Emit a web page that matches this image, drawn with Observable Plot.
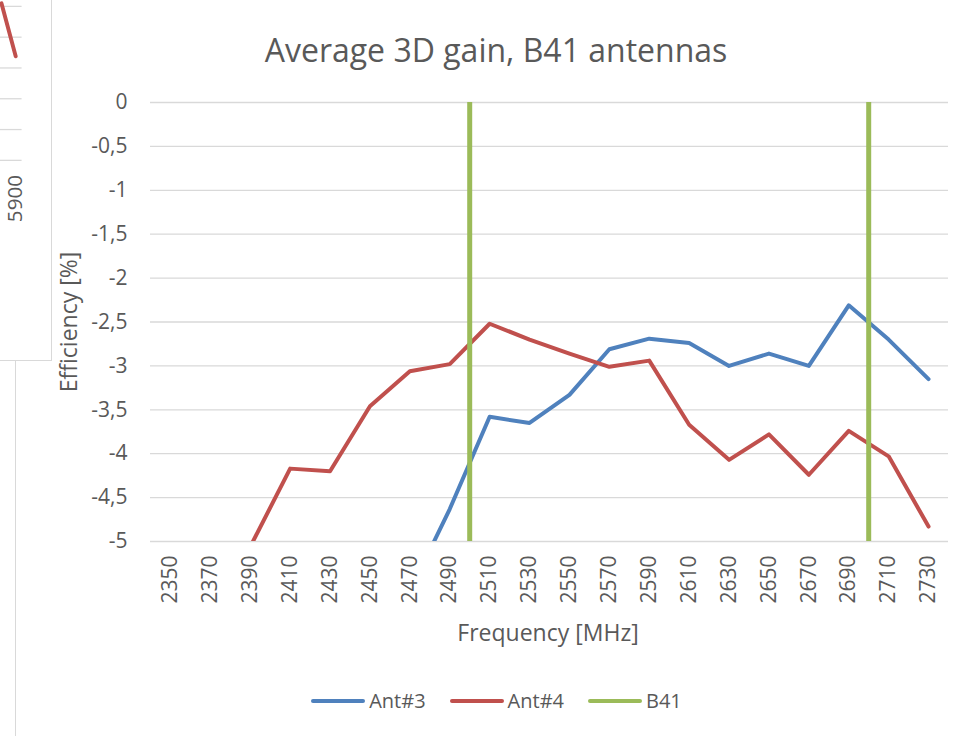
<!DOCTYPE html>
<html>
<head>
<meta charset="utf-8">
<script src="https://cdn.jsdelivr.net/npm/d3@7"></script>
<script src="https://cdn.jsdelivr.net/npm/@observablehq/plot@0.6"></script>
<style>
  html, body { margin: 0; padding: 0; background: #fff; }
  #wrap { position: relative; width: 976px; height: 736px; background: #fff; overflow: hidden; font-family: "Open Sans", sans-serif; color: #595959; }
  .abs { position: absolute; white-space: nowrap; line-height: 1; }
  .legend { position: absolute; top: 688px; left: 0; width: 993px; display: flex; justify-content: center; align-items: center; gap: 24px; font-size: 20px; line-height: 26px; }
  .item { display: flex; align-items: center; gap: 4px; }
  .sw { width: 54px; height: 4px; border-radius: 2px; }
</style>
</head>
<body>
<div id="wrap"></div>
<script>
// ---- data ----
const freqs = [2350, 2370, 2390, 2410, 2430, 2450, 2470, 2490, 2510, 2530, 2550, 2570, 2590, 2610, 2630, 2650, 2670, 2690, 2710, 2730];
const ant3 = [null, null, null, null, null, null, -5.57, -4.63, -3.58, -3.65, -3.33, -2.81, -2.69, -2.74, -3.00, -2.86, -3.00, -2.31, -2.70, -3.15];
const ant4 = [null, null, -5.06, -4.17, -4.20, -3.46, -3.06, -2.98, -2.52, -2.70, -2.86, -3.01, -2.94, -3.67, -4.07, -3.78, -4.24, -3.74, -4.03, -4.83];
const b41 = [2500, 2700];
const yTicks = [0, -0.5, -1, -1.5, -2, -2.5, -3, -3.5, -4, -4.5, -5];
const seriesNames = ["Ant#3", "Ant#4", "B41"];
const seriesColors = ["#4F81BD", "#C0504D", "#9BBB59"];

// fragment of a neighbouring chart (left edge)
const fragX = [5880, 5900];
const fragVals = [0.1, -1.62];
const fragGrid = [0, -1, -2, -3, -4, -5];

const rows3 = freqs.map((f, i) => ({freq: f, value: ant3[i]}));
const rows4 = freqs.map((f, i) => ({freq: f, value: ant4[i]}));
const fragRows = fragX.map((f, i) => ({freq: f, value: fragVals[i]}));

const wrap = document.getElementById("wrap");
const FONT = "'Open Sans', sans-serif";

// main chart frame border (left edge visible)
const border = document.createElement("div");
border.style.cssText = "position:absolute;left:15px;top:0;width:1px;height:736px;background:#D9D9D9;";
wrap.appendChild(border);

const main = Plot.plot({
  width: 976,
  height: 736,
  marginTop: 102,
  marginBottom: 195,
  marginLeft: 150,
  marginRight: 28,
  style: {fontFamily: FONT, fontSize: "21px", color: "#595959", background: "transparent", overflow: "visible"},
  x: {type: "linear", domain: [2340, 2740]},
  y: {domain: [-5, 0]},
  marks: [
    Plot.ruleY(yTicks, {stroke: "#D9D9D9", strokeWidth: 1.3}),
    Plot.axisY({ticks: yTicks, tickSize: 0, tickPadding: 23, label: null, tickFormat: d => String(d).replace(".", ",")}),
    Plot.axisX({ticks: freqs, tickSize: 0, tickPadding: 14, tickRotate: -90, label: null, tickFormat: d => String(d)}),
    Plot.line(rows3, {x: "freq", y: "value", stroke: seriesColors[0], strokeWidth: 4, clip: true, strokeLinejoin: "round"}),
    Plot.line(rows4, {x: "freq", y: "value", stroke: seriesColors[1], strokeWidth: 4, clip: true, strokeLinejoin: "round"}),
    Plot.ruleX(b41, {y1: 0, y2: -5, stroke: seriesColors[2], strokeWidth: 5})
  ]
});
main.style.position = "absolute";
main.style.left = "0px";
main.style.top = "0px";
wrap.appendChild(main);

function addText(txt, cx, cy, size, rot) {
  const d = document.createElement("div");
  d.className = "abs";
  d.textContent = txt;
  d.style.fontSize = size + "px";
  d.style.left = cx + "px";
  d.style.top = cy + "px";
  d.style.transform = "translate(-50%,-50%)" + (rot ? " rotate(" + rot + "deg)" : "");
  wrap.appendChild(d);
  return d;
}
addText("Average 3D gain, B41 antennas", 496, 50, 32);
addText("Frequency [MHz]", 548, 632, 23);
addText("Efficiency [%]", 68, 322, 23, -90);

// legend
const leg = document.createElement("div");
leg.className = "legend";
seriesNames.forEach((n, i) => {
  const it = document.createElement("div");
  it.className = "item";
  const sw = document.createElement("div");
  sw.className = "sw";
  sw.style.background = seriesColors[i];
  const t = document.createElement("span");
  t.textContent = n;
  it.appendChild(sw);
  it.appendChild(t);
  leg.appendChild(it);
});
wrap.appendChild(leg);

// neighbouring chart fragment
const fragBox = document.createElement("div");
fragBox.style.cssText = "position:absolute;left:0;top:0;width:51px;height:360px;background:#fff;border-right:1.5px solid #D9D9D9;border-bottom:1.5px solid #D9D9D9;overflow:hidden;";
const frag = Plot.plot({
  width: 52,
  height: 361,
  marginTop: 6,
  marginBottom: 198,
  marginLeft: 0,
  marginRight: 30,
  style: {fontFamily: FONT, fontSize: "21px", color: "#595959", background: "transparent"},
  x: {type: "linear", domain: [5880, 5900], range: [1, 15.5], axis: null},
  y: {domain: [-5, 0], axis: null},
  marks: [
    Plot.ruleY(fragGrid, {stroke: "#D9D9D9", strokeWidth: 1.3}),
    Plot.axisX({ticks: [5900], tickSize: 0, tickPadding: 15, tickRotate: -90, label: null, tickFormat: d => String(d)}),
    Plot.line(fragRows, {x: "freq", y: "value", stroke: seriesColors[1], strokeWidth: 4, strokeLinecap: "round"})
  ]
});
frag.style.overflow = "hidden";
fragBox.appendChild(frag);
wrap.appendChild(fragBox);
</script>
</body>
</html>
